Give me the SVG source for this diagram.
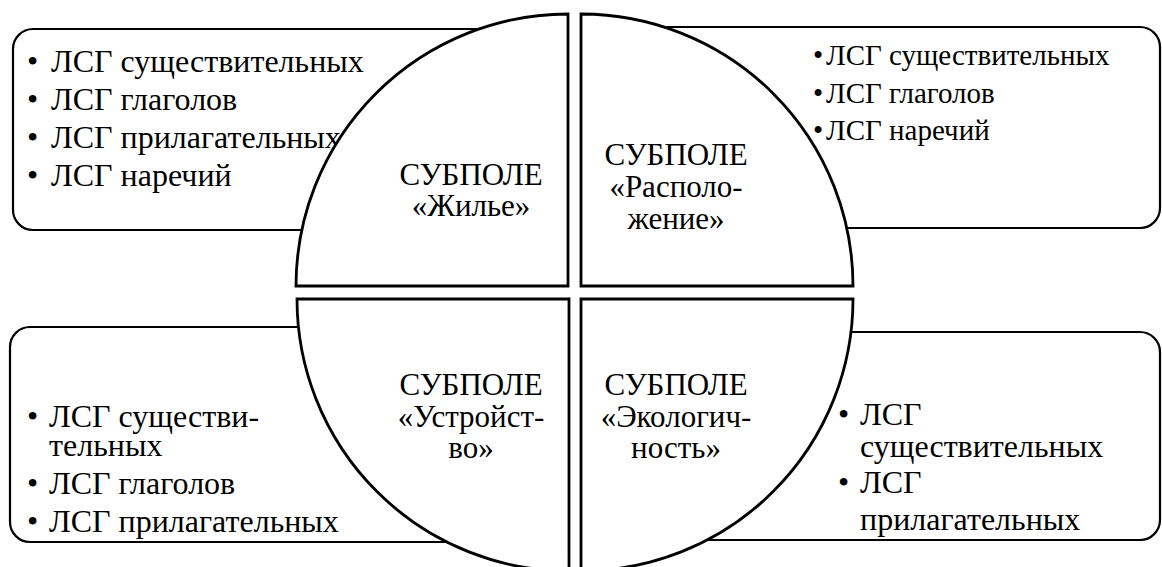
<svg xmlns="http://www.w3.org/2000/svg" width="1162" height="567" viewBox="0 0 1162 567">
<style>
.box{fill:#fff;stroke:#000;stroke-width:2.2}
.quad{fill:#fff;stroke:#000;stroke-width:2.8;stroke-linejoin:miter}
</style>
<rect width="1162" height="567" fill="#fff"/>
<g id="connectors"></g>
<g id="box-tl" font-family="Liberation Serif, serif" font-size="32">
<rect class="box" x="13" y="29" width="547" height="201" rx="20"/>
<text x="27" y="72">•</text><text x="51" y="72">ЛСГ существительных</text>
<text x="27" y="110">•</text><text x="51" y="110">ЛСГ глаголов</text>
<text x="27" y="148">•</text><text x="51" y="148">ЛСГ прилагательных</text>
<text x="27" y="186">•</text><text x="51" y="186">ЛСГ наречий</text>
</g>
<g id="box-tr" font-family="Liberation Serif, serif" font-size="29">
<rect class="box" x="600" y="27" width="560" height="201" rx="20"/>
<text x="813" y="65">•</text><text x="826" y="65">ЛСГ существительных</text>
<text x="813" y="103">•</text><text x="826" y="103">ЛСГ глаголов</text>
<text x="813" y="140">•</text><text x="826" y="140">ЛСГ наречий</text>
</g>
<g id="box-bl" font-family="Liberation Serif, serif" font-size="32">
<rect class="box" x="10" y="327" width="550" height="215" rx="20"/>
<text x="27" y="427">•</text><text x="49" y="427">ЛСГ существи-</text>
<text x="49" y="456">тельных</text>
<text x="27" y="494">•</text><text x="49" y="494">ЛСГ глаголов</text>
<text x="27" y="532">•</text><text x="49" y="532">ЛСГ прилагательных</text>
</g>
<g id="box-br" font-family="Liberation Serif, serif" font-size="32">
<rect class="box" x="600" y="332" width="560" height="208" rx="20"/>
<text x="838" y="425">•</text><text x="860" y="425">ЛСГ</text>
<text x="860" y="457">существительных</text>
<text x="838" y="493">•</text><text x="860" y="493">ЛСГ</text>
<text x="860" y="530">прилагательных</text>
</g>
<g id="quad-tl" font-family="Liberation Serif, serif" font-size="31" text-anchor="middle">
<path class="quad" d="M568,286 L568,14 A272,272 0 0 0 296,286 Z"/>
<text x="471" y="185">СУБПОЛЕ</text>
<text x="471" y="216">«Жилье»</text>
</g>
<g id="quad-tr" font-family="Liberation Serif, serif" font-size="31" text-anchor="middle">
<path class="quad" d="M581,286 L581,14 A272,272 0 0 1 853,286 Z"/>
<text x="676" y="165">СУБПОЛЕ</text>
<text x="676" y="197">«Располо-</text>
<text x="676" y="229">жение»</text>
</g>
<g id="quad-bl" font-family="Liberation Serif, serif" font-size="31" text-anchor="middle">
<path class="quad" d="M569,299 L569,571 A272,272 0 0 1 297,299 Z"/>
<text x="471" y="395">СУБПОЛЕ</text>
<text x="471" y="427">«Устройст-</text>
<text x="471" y="458">во»</text>
</g>
<g id="quad-br" font-family="Liberation Serif, serif" font-size="31" text-anchor="middle">
<path class="quad" d="M581,299 L581,571 A272,272 0 0 0 853,299 Z"/>
<text x="676" y="395">СУБПОЛЕ</text>
<text x="676" y="427">«Экологич-</text>
<text x="676" y="458">ность»</text>
</g>
</svg>
